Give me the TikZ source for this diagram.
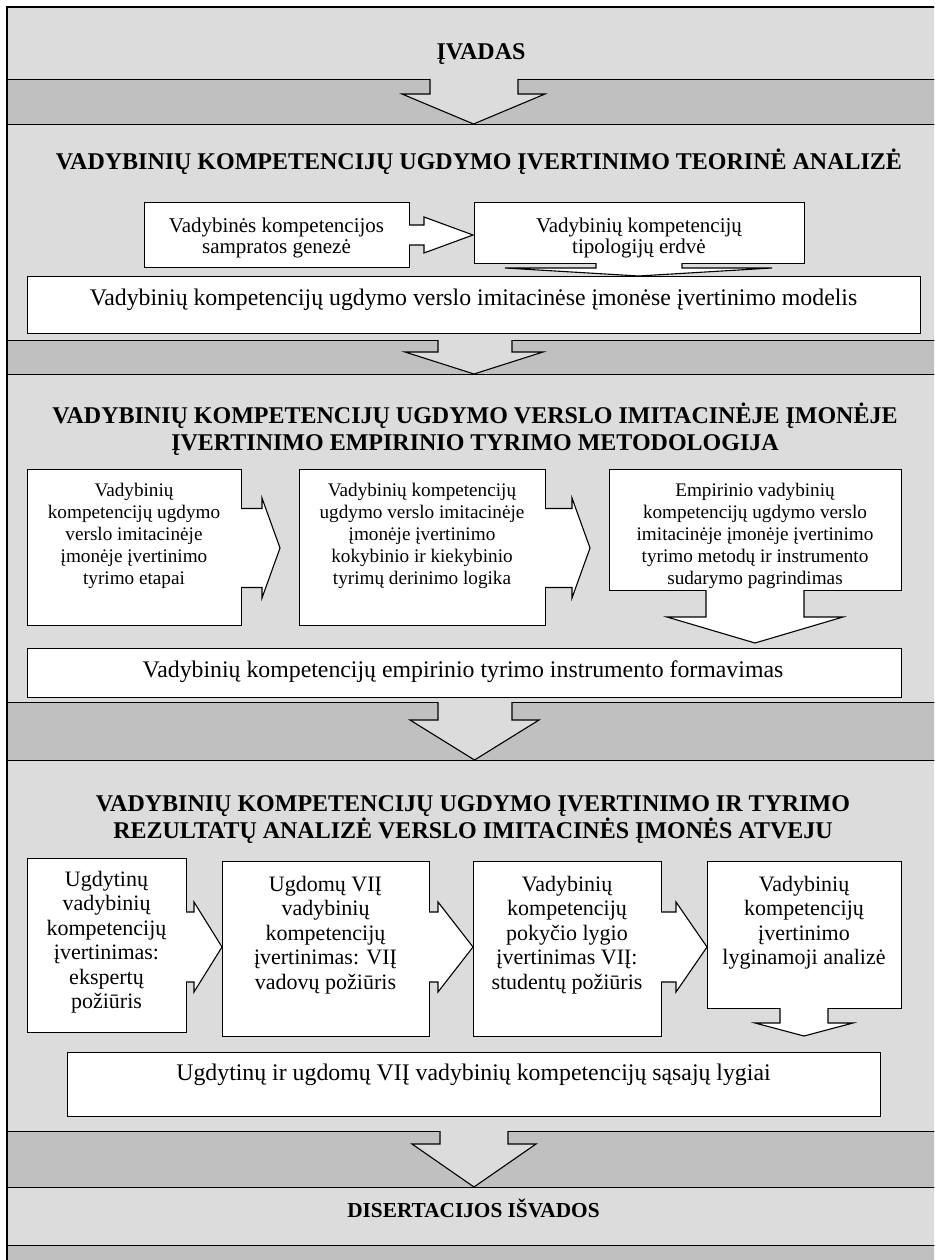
\documentclass[tikz,border=0pt]{standalone}
\usepackage{fontspec}
\setmainfont{Liberation Serif}
\definecolor{lband}{RGB}{220,220,220}
\definecolor{dband}{RGB}{192,192,192}
\newcommand\firstln{\rule{0pt}{1em}}
% right-pointing block arrow: shaft start, head base, tip x, centre y, shaft half height, head half height
\newcommand\rarr[6]{%
  \fill[white] (#1-1,#4-#5) -- (#2,#4-#5) -- (#2,#4-#6) -- (#3,#4) -- (#2,#4+#6) -- (#2,#4+#5) -- (#1-1,#4+#5) -- cycle;
  \draw[arrline] (#1,#4-#5) -- (#2,#4-#5) -- (#2,#4-#6) -- (#3,#4) -- (#2,#4+#6) -- (#2,#4+#5) -- (#1,#4+#5);}
% down-pointing block arrow: shaft left, shaft right, head left, head right, top y, head y, tip y, fill
\newcommand\darr[8]{%
  \fill[#8] (#1,#5-1) -- (#1,#6) -- (#3,#6) -- ({(#3+#4)/2},#7) -- (#4,#6) -- (#2,#6) -- (#2,#5-1) -- cycle;
  \draw[arrline] (#1,#5) -- (#1,#6) -- (#3,#6) -- ({(#3+#4)/2},#7) -- (#4,#6) -- (#2,#6) -- (#2,#5);}
\begin{document}
\begin{tikzpicture}[x=1pt,y=-1pt,
  lb/.style={fill=lband,draw=black,line width=1.3pt,anchor=north west,inner sep=0pt,minimum width=960pt},
  db/.style={fill=dband,draw=black,line width=1.3pt,anchor=north west,inner sep=0pt,minimum width=960pt},
  wbox/.style={fill=white,draw=black,line width=1.2pt,anchor=north west,inner sep=0pt},
  arrline/.style={draw=black,line width=1.1pt,line join=miter},
  txt/.style={inner sep=0pt,align=center,anchor=north},
  one/.style={inner sep=0pt,anchor=base},
  ttl/.style={font=\fontsize{24}{27}\selectfont\bfseries},
  fa/.style={font=\fontsize{21}{21.5}\selectfont},
  fb/.style={font=\fontsize{19.2}{22}\selectfont},
  fc/.style={font=\fontsize{22}{24.5}\selectfont},
  fm/.style={font=\fontsize{23.8}{26}\selectfont},
]
\useasboundingbox (0,0) rectangle (934,1260);
\clip (0,0) rectangle (934,1260);
% bands
\node[lb,minimum height=72pt]  (b1) at (7,7) {};
\node[db,minimum height=45pt]  (d1) at (7,79) {};
\node[lb,minimum height=216pt] (s1) at (7,124) {};
\node[db,minimum height=34pt]  (d2) at (7,340) {};
\node[lb,minimum height=328pt] (s2) at (7,374) {};
\node[db,minimum height=58pt]  (d3) at (7,702) {};
\node[lb,minimum height=371pt] (s3) at (7,760) {};
\node[db,minimum height=56pt]  (d4) at (7,1131) {};
\node[lb,minimum height=58pt]  (b5) at (7,1187) {};
\node[db,minimum height=40pt]  (d5) at (7,1245) {};
% boxes
\node[wbox,minimum width=265pt,minimum height=65pt]  (s1a) at (144,202) {};
\node[wbox,minimum width=330pt,minimum height=61pt]  (s1b) at (474,202) {};
\node[wbox,minimum width=893pt,minimum height=57pt]  (s1m) at (27,276) {};
\node[wbox,minimum width=214pt,minimum height=156pt] (s2a) at (27,469) {};
\node[wbox,minimum width=246pt,minimum height=156pt] (s2b) at (299,469) {};
\node[wbox,minimum width=292pt,minimum height=121pt] (s2c) at (609,469) {};
\node[wbox,minimum width=874pt,minimum height=49pt]  (s2m) at (27,648) {};
\node[wbox,minimum width=159pt,minimum height=174pt] (s3a) at (27,858) {};
\node[wbox,minimum width=207pt,minimum height=175pt] (s3b) at (222,861) {};
\node[wbox,minimum width=188pt,minimum height=175pt] (s3c) at (473,861) {};
\node[wbox,minimum width=194pt,minimum height=147pt] (s3d) at (707,861) {};
\node[wbox,minimum width=813pt,minimum height=64pt]  (s3m) at (67,1052) {};
% big arrows between bands
\darr{430}{518}{402}{545}{79}{94}{124}{lband}
\darr{438}{512}{405}{543}{340}{352}{374}{lband}
\darr{438}{512}{410}{539}{702}{720}{760}{lband}
\darr{440}{508}{412}{536}{1131}{1144}{1187}{lband}
% section 1 arrows
\rarr{409}{424}{473}{235}{10}{18}
\darr{596}{682}{505}{772}{263}{268}{276}{white}
% section 2 arrows
\rarr{241}{262}{280}{548}{39.5}{50}
\rarr{545}{572}{590}{548}{39.5}{50}
\darr{706}{804}{667}{843}{590}{617}{643}{white}
% section 3 arrows
\rarr{186}{194}{222}{947}{35}{45}
\rarr{429}{438}{473}{947}{35}{45}
\rarr{661}{676}{707}{947}{35}{45}
\darr{780}{828}{755}{853}{1008}{1023}{1036}{white}
% frame
\draw[line width=2.6pt] (7,1275) -- (7,7) -- (950,7);
% texts
\node[one,ttl] (t0) at (481,60) {ĮVADAS};
\node[one,ttl] (t1) at (479,170) {VADYBINIŲ KOMPETENCIJŲ UGDYMO ĮVERTINIMO TEORINĖ ANALIZĖ};
\node[txt,fa] (s1at) at (276.5,211) {\firstln Vadybinės kompetencijos\\sampratos genezė};
\node[txt,fa] (s1bt) at (639,211) {\firstln Vadybinių kompetencijų\\tipologijų erdvė};
\node[one,fm] (s1mt) at (473.5,305) {Vadybinių kompetencijų ugdymo verslo imitacinėse įmonėse įvertinimo modelis};
\node[txt,ttl] (t2) at (475,399) {\firstln VADYBINIŲ KOMPETENCIJŲ UGDYMO VERSLO IMITACINĖJE ĮMONĖJE\\ĮVERTINIMO EMPIRINIO TYRIMO METODOLOGIJA};
\node[txt,fb] (s2at) at (134,476.8) {\firstln Vadybinių\\kompetencijų ugdymo\\verslo imitacinėje\\įmonėje įvertinimo\\tyrimo etapai};
\node[txt,fb] (s2bt) at (422,476.8) {\firstln Vadybinių kompetencijų\\ugdymo verslo imitacinėje\\įmonėje įvertinimo\\kokybinio ir kiekybinio\\tyrimų derinimo logika};
\node[txt,fb] (s2ct) at (755,476.8) {\firstln Empirinio vadybinių\\kompetencijų ugdymo verslo\\imitacinėje įmonėje įvertinimo\\tyrimo metodų ir instrumento\\sudarymo pagrindimas};
\node[one,fm] (s2mt) at (463,677) {Vadybinių kompetencijų empirinio tyrimo instrumento formavimas};
\node[txt,ttl] (t3) at (473,787) {\firstln VADYBINIŲ KOMPETENCIJŲ UGDYMO ĮVERTINIMO IR TYRIMO\\REZULTATŲ ANALIZĖ VERSLO IMITACINĖS ĮMONĖS ATVEJU};
\node[txt,fc] (s3at) at (106.5,864) {\firstln Ugdytinų\\vadybinių\\kompetencijų\\įvertinimas:\\ekspertų\\požiūris};
\node[txt,fc] (s3bt) at (325.5,869) {\firstln Ugdomų VIĮ\\vadybinių\\kompetencijų\\įvertinimas: VIĮ\\vadovų požiūris};
\node[txt,fc] (s3ct) at (567,869) {\firstln Vadybinių\\kompetencijų\\pokyčio lygio\\įvertinimas VIĮ:\\studentų požiūris};
\node[txt,fc] (s3dt) at (804,869) {\firstln Vadybinių\\kompetencijų\\įvertinimo\\lyginamoji analizė};
\node[one,fm] (s3mt) at (473.5,1080) {Ugdytinų ir ugdomų VIĮ vadybinių kompetencijų sąsajų lygiai};
\node[one,font=\fontsize{21.3}{24}\selectfont\bfseries] (t4) at (473.5,1217) {DISERTACIJOS IŠVADOS};
\end{tikzpicture}
\end{document}
